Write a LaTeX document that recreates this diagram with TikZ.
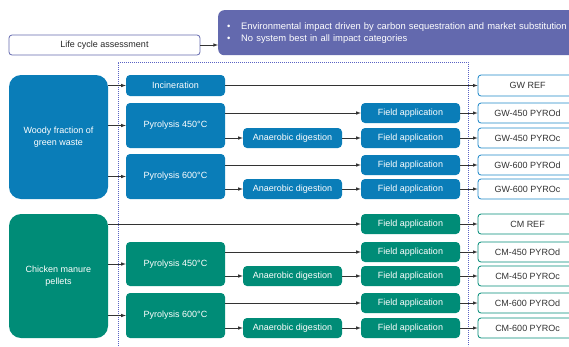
\documentclass[tikz,border=0pt]{standalone}
\usepackage{fontspec}
\setmainfont{Liberation Sans}
\usepackage{tikz}
\usetikzlibrary{arrows,positioning}

\definecolor{gwblue}{HTML}{0A7DB8}
\definecolor{gwline}{HTML}{1E88C8}
\definecolor{cmgreen}{HTML}{008C77}
\definecolor{lcapurple}{HTML}{6369AE}
\definecolor{framedots}{HTML}{5A62C4}
\definecolor{linkgray}{HTML}{333333}

\begin{document}
\begin{tikzpicture}[x=1pt,y=-1pt,font=\fontsize{9}{11.5}\selectfont,>=latex,
    source/.style={rectangle,rounded corners=12pt,minimum width=99pt,minimum height=124pt,align=center,text=white},
    procbox/.style={rectangle,rounded corners=4pt,minimum width=99pt,inner sep=0pt,text=white},
    outbox/.style={rectangle,draw,line width=0.8pt,rounded corners=3pt,fill=white,minimum width=99pt,minimum height=20pt,inner sep=0pt,text=black!80},
    link/.style={->,draw=linkgray,line width=0.6pt}]
    \useasboundingbox (0,0) rectangle (569,346);
    \clip (0,0) rectangle (569,346);

    % top row
    \node [rectangle,draw=lcapurple,line width=0.8pt,rounded corners=3pt,minimum width=191pt,minimum height=20pt,text=black!85] (lca) at (104.5,45) {Life cycle assessment};
    \node [rectangle,fill=lcapurple,rounded corners=6pt,anchor=north west,minimum height=45pt,text width=342pt,inner xsep=9pt,align=left,text=white,font=\fontsize{9.4}{12}\selectfont] (impact) at (218,10)
      {\makebox[14pt][l]{\textbullet}Environmental impact driven by carbon sequestration and market substitution\\
       \makebox[14pt][l]{\textbullet}No system best in all impact categories};
    \draw [link] (lca) -- (lca -| impact.west);

    % scenario frame
    \draw [framedots,line width=0.8pt,dash pattern=on 0.8pt off 1.2pt] (118,346) |- (468,62) -- (468,346);

    % green waste
    \node [source,fill=gwblue] (woody) at (58.5,137) {Woody fraction of\\green waste};
    \node [procbox,fill=gwblue,minimum height=21pt] (incin) at (175.5,85.5) {Incineration};
    \node [procbox,fill=gwblue,minimum height=45pt] (gwpyroA) at (175.5,125.5) {Pyrolysis 450°C};
    \node [procbox,fill=gwblue,minimum height=45pt] (gwpyroB) at (175.5,176.5) {Pyrolysis 600°C};
    \node [procbox,fill=gwblue,minimum height=20pt] (gwadA) at (292.5,138) {Anaerobic digestion};
    \node [procbox,fill=gwblue,minimum height=20pt] (gwadB) at (292.5,189) {Anaerobic digestion};
    \node [procbox,fill=gwblue,minimum height=20pt] (gwfaAd) at (410.5,113) {Field application};
    \node [procbox,fill=gwblue,minimum height=20pt,right of=gwadA,node distance=118pt] (gwfaAc) {Field application};
    \node [procbox,fill=gwblue,minimum height=20pt] (gwfaBd) at (410.5,165) {Field application};
    \node [procbox,fill=gwblue,minimum height=20pt,right of=gwadB,node distance=118pt] (gwfaBc) {Field application};
    \node [outbox,draw=gwline,minimum height=21pt] (gwref) at (527.5,85.5) {GW REF};
    \node [outbox,draw=gwline,right of=gwfaAd,node distance=117pt] (gwAd) {GW-450 PYROd};
    \node [outbox,draw=gwline,right of=gwfaAc,node distance=117pt] (gwAc) {GW-450 PYROc};
    \node [outbox,draw=gwline,right of=gwfaBd,node distance=117pt] (gwBd) {GW-600 PYROd};
    \node [outbox,draw=gwline,right of=gwfaBc,node distance=117pt] (gwBc) {GW-600 PYROc};

    \draw [link] (woody.east |- incin) -- (incin);
    \draw [link] (woody.east |- gwpyroA) -- (gwpyroA);
    \draw [link] (woody.east |- gwpyroB) -- (gwpyroB);
    \draw [link] (incin) -- (gwref);
    \draw [link] (gwpyroA.east |- gwfaAd) -- (gwfaAd);
    \draw [link] (gwpyroA.east |- gwadA) -- (gwadA);
    \draw [link] (gwadA) -- (gwfaAc);
    \draw [link] (gwpyroB.east |- gwfaBd) -- (gwfaBd);
    \draw [link] (gwpyroB.east |- gwadB) -- (gwadB);
    \draw [link] (gwadB) -- (gwfaBc);
    \draw [link] (gwfaAd) -- (gwAd);
    \draw [link] (gwfaAc) -- (gwAc);
    \draw [link] (gwfaBd) -- (gwBd);
    \draw [link] (gwfaBc) -- (gwBc);

    % chicken manure
    \node [source,fill=cmgreen] (manure) at (58.5,276) {Chicken manure\\pellets};
    \node [procbox,fill=cmgreen,minimum height=44pt] (cmpyroA) at (175.5,264) {Pyrolysis 450°C};
    \node [procbox,fill=cmgreen,minimum height=45pt] (cmpyroB) at (175.5,315.5) {Pyrolysis 600°C};
    \node [procbox,fill=cmgreen,minimum height=20pt] (cmadA) at (292.5,276) {Anaerobic digestion};
    \node [procbox,fill=cmgreen,minimum height=20pt] (cmadB) at (292.5,328) {Anaerobic digestion};
    \node [procbox,fill=cmgreen,minimum height=20pt] (cmfaR) at (410.5,224) {Field application};
    \node [procbox,fill=cmgreen,minimum height=20pt] (cmfaAd) at (410.5,252) {Field application};
    \node [procbox,fill=cmgreen,minimum height=20pt,right of=cmadA,node distance=118pt] (cmfaAc) {Field application};
    \node [procbox,fill=cmgreen,minimum height=20pt] (cmfaBd) at (410.5,303) {Field application};
    \node [procbox,fill=cmgreen,minimum height=20pt,right of=cmadB,node distance=118pt] (cmfaBc) {Field application};
    \node [outbox,draw=cmgreen,right of=cmfaR,node distance=117pt] (cmref) {CM REF};
    \node [outbox,draw=cmgreen,right of=cmfaAd,node distance=117pt] (cmAd) {CM-450 PYROd};
    \node [outbox,draw=cmgreen,right of=cmfaAc,node distance=117pt] (cmAc) {CM-450 PYROc};
    \node [outbox,draw=cmgreen,right of=cmfaBd,node distance=117pt] (cmBd) {CM-600 PYROd};
    \node [outbox,draw=cmgreen,right of=cmfaBc,node distance=117pt] (cmBc) {CM-600 PYROc};

    \draw [link] (manure.east |- cmfaR) -- (cmfaR);
    \draw [link] (manure.east |- cmpyroA) -- (cmpyroA);
    \draw [link] (manure.east |- cmpyroB) -- (cmpyroB);
    \draw [link] (cmpyroA.east |- cmfaAd) -- (cmfaAd);
    \draw [link] (cmpyroA.east |- cmadA) -- (cmadA);
    \draw [link] (cmadA) -- (cmfaAc);
    \draw [link] (cmpyroB.east |- cmfaBd) -- (cmfaBd);
    \draw [link] (cmpyroB.east |- cmadB) -- (cmadB);
    \draw [link] (cmadB) -- (cmfaBc);
    \draw [link] (cmfaR) -- (cmref);
    \draw [link] (cmfaAd) -- (cmAd);
    \draw [link] (cmfaAc) -- (cmAc);
    \draw [link] (cmfaBd) -- (cmBd);
    \draw [link] (cmfaBc) -- (cmBc);
\end{tikzpicture}
\end{document}
